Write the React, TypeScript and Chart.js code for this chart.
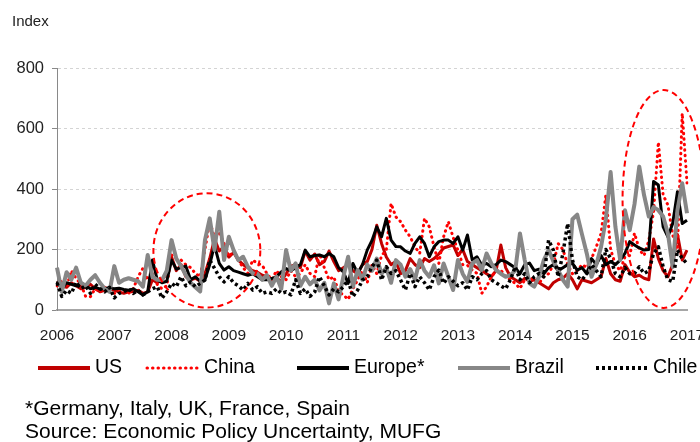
import React, { useEffect, useRef } from "react";
import { Chart, registerables } from "chart.js";

Chart.register(...registerables);

const YEARS = ["2006", "2007", "2008", "2009", "2010", "2011", "2012", "2013", "2014", "2015", "2016", "2017"];
const Y_TICKS = [0, 200, 400, 600, 800];

// Monthly values, Jan 2006 .. Jan 2017
const US = [
  95, 80, 75, 90, 80, 70, 75, 85, 70, 60, 65, 70,
  65, 60, 55, 60, 60, 65, 55, 60, 100, 90, 100, 120,
  175, 130, 150, 110, 100, 105, 95, 120, 170, 235, 195, 210,
  175, 190, 165, 150, 140, 130, 125, 115, 110, 100, 105, 95,
  120, 145, 150, 140, 195, 165, 185, 150, 160, 195, 160, 130,
  140, 150, 130, 120, 150, 160, 200, 280, 220, 175, 150, 160,
  120, 130, 170, 150, 140, 170, 160, 170, 185, 205, 210, 215,
  180, 200, 160, 150, 140, 130, 120, 110, 130, 215, 140, 110,
  100, 90, 105, 95, 100, 90, 80, 70, 90, 100, 105, 120,
  100, 70, 100, 95, 90, 100, 110, 170, 120, 100, 95, 150,
  125, 110, 115, 105, 100, 235, 170, 130, 110, 150, 250, 165,
  198,
];
const CHINA = [
  80, 95, 75, 130, 105, 85, 45, 44, 71, 60, 75, 65,
  55, 60, 65, 55, 71, 110, 138, 99, 120, 85, 70, 80,
  182, 170, 165, 150, 140, 121, 110, 200, 292, 240, 254, 220,
  176, 198, 165, 140, 121, 165, 154, 148, 120, 100, 130, 110,
  100, 130, 110, 120, 150, 121, 110, 187, 140, 100, 110, 60,
  50, 35, 70, 100, 130, 90, 150, 120, 180, 198, 352, 308,
  292, 264, 242, 209, 187, 303, 275, 209, 154, 242, 292, 240,
  198, 150, 148, 132, 121, 55, 77, 110, 130, 132, 110, 100,
  88, 71, 100, 110, 95, 88, 110, 120, 150, 220, 200, 150,
  120, 130, 150, 140, 170, 209, 253, 380, 200, 150, 130, 176,
  180, 254, 200, 180, 230, 325, 555, 380, 347, 248, 200, 650,
  420,
];
const EUROPE = [
  95, 70, 90, 85, 80, 90, 80, 70, 75, 70, 70, 75,
  70, 72, 68, 65, 70, 60, 50, 60, 165, 100, 90, 95,
  165, 135, 140, 145, 100, 110, 95, 100, 150, 214, 154, 132,
  143, 130, 125, 120, 115, 120, 110, 100, 100, 104, 110, 126,
  137, 130, 140, 150, 198, 176, 180, 182, 176, 187, 176, 140,
  126, 88, 154, 121, 150, 198, 230, 275, 242, 303, 231, 210,
  209, 195, 187, 220, 242, 220, 176, 209, 226, 231, 231, 220,
  242, 198, 248, 165, 176, 148, 154, 143, 150, 165, 160, 150,
  140, 120, 150, 155, 130, 135, 120, 140, 150, 130, 140, 150,
  154, 132, 140, 120, 170, 150, 180, 150, 160, 150, 165, 187,
  226, 215, 205, 198, 200, 425, 413, 275, 242, 286, 391, 286,
  297,
];
const BRAZIL = [
  140, 60, 125, 100, 140, 90, 80, 100, 115, 90, 70, 60,
  145, 90, 100, 105, 100, 95, 77, 182, 110, 100, 99, 130,
  231, 170, 145, 115, 90, 75, 61, 231, 303, 198, 325, 165,
  242, 198, 165, 176, 143, 121, 120, 100, 115, 80, 110, 70,
  198, 130, 154, 80, 110, 85, 100, 65, 90, 22, 88, 35,
  110, 176, 77, 132, 100, 150, 130, 170, 120, 140, 90, 165,
  150, 110, 135, 100, 165, 130, 110, 148, 88, 154, 110, 66,
  165, 120, 93, 154, 165, 132, 187, 154, 132, 120, 110, 115,
  130, 253, 165, 88, 77, 110, 165, 198, 160, 132, 100, 77,
  300, 315, 250, 187, 110, 150, 209, 300, 456, 275, 165, 330,
  264, 350, 474, 380, 309, 340, 330, 309, 253, 142, 330, 419,
  320,
];
const CHILE = [
  90, 45, 65, 55, 90, 70, 80, 55, 85, 70, 60, 75,
  40, 55, 60, 70, 55, 65, 50, 60, 70, 77, 39, 60,
  88, 77, 110, 80, 93, 77, 88, 99, 165, 138, 110, 93,
  110, 90, 80, 66, 88, 66, 77, 55, 60, 55, 70, 55,
  60, 50, 100, 55, 70, 45, 60, 110, 80, 50, 70, 60,
  77, 99, 44, 66, 99, 110, 143, 165, 99, 143, 121, 130,
  99, 66, 121, 77, 110, 90, 66, 110, 132, 88, 110, 95,
  80, 90, 66, 110, 100, 120, 130, 100, 90, 80, 70, 100,
  143, 100, 120, 90, 110, 121, 110, 231, 198, 110, 187, 286,
  165, 110, 100, 120, 150, 130, 110, 200, 170, 120, 110, 140,
  120, 121, 143, 121, 130, 187, 209, 143, 100, 94, 198, 170,
  154,
];

// Highlight ellipses in data units: centre month index, centre value, half-width (months), half-height (value)
const HIGHLIGHT_MONTH = [31.4, 127.1];
const HIGHLIGHT_VALUE = [197, 367];
const HIGHLIGHT_HALF_MONTHS = [11.2, 8.6];
const HIGHLIGHT_HALF_VALUE = [189, 360];

const FONT = "'Liberation Sans', Arial, sans-serif";

const MONTH_LABELS: string[] = [];
for (let y = 0; y < YEARS.length - 1; y++) {
  for (let m = 1; m <= 12; m++) MONTH_LABELS.push(`${YEARS[y]}-${String(m).padStart(2, "0")}`);
}
MONTH_LABELS.push(`${YEARS[YEARS.length - 1]}-01`);

const LEGEND_X = [38, 147, 297, 458, 596];
const LEGEND_Y = 368;

const highlightPlugin = {
  id: "highlights",
  afterDatasetsDraw(chart: any) {
    const { ctx, scales } = chart;
    const xs = scales.x;
    const ys = scales.y;
    ctx.save();
    ctx.strokeStyle = "#FF0000";
    ctx.lineWidth = 2;
    ctx.setLineDash([6, 4]);
    for (let i = 0; i < HIGHLIGHT_MONTH.length; i++) {
      const cx = xs.getPixelForValue(HIGHLIGHT_MONTH[i]);
      const cy = ys.getPixelForValue(HIGHLIGHT_VALUE[i]);
      const rx = xs.getPixelForValue(HIGHLIGHT_MONTH[i] + HIGHLIGHT_HALF_MONTHS[i]) - cx;
      const ry = cy - ys.getPixelForValue(HIGHLIGHT_VALUE[i] + HIGHLIGHT_HALF_VALUE[i]);
      ctx.beginPath();
      ctx.ellipse(cx, cy, rx, ry, 0, 0, Math.PI * 2);
      ctx.stroke();
    }
    ctx.restore();
  },
};

const legendPlugin = {
  id: "customLegend",
  afterDraw(chart: any) {
    const { ctx } = chart;
    const sets = chart.data.datasets;
    ctx.save();
    ctx.font = `19.5px ${FONT}`;
    ctx.textBaseline = "middle";
    ctx.fillStyle = "#000";
    sets.forEach((ds: any, i: number) => {
      const x = LEGEND_X[i];
      ctx.save();
      ctx.strokeStyle = ds.borderColor;
      ctx.lineWidth = ds.legendWidth;
      ctx.lineCap = ds.borderCapStyle || "butt";
      ctx.setLineDash(ds.borderDash || []);
      ctx.beginPath();
      ctx.moveTo(x, LEGEND_Y);
      ctx.lineTo(x + 52, LEGEND_Y);
      ctx.stroke();
      ctx.restore();
      ctx.fillText(ds.label, x + 57, LEGEND_Y);
    });
    ctx.restore();
  },
};

export default function App() {
  const ref = useRef<HTMLCanvasElement | null>(null);
  useEffect(() => {
    if (!ref.current) return;
    const chart = new Chart(ref.current, {
      type: "line",
      data: {
        labels: MONTH_LABELS,
        datasets: [
          { label: "US", data: US, borderColor: "#C00000", borderWidth: 3, legendWidth: 4, order: 5 } as any,
          { label: "China", data: CHINA, borderColor: "#FF0000", borderWidth: 3, borderDash: [0.5, 5], borderCapStyle: "round", legendWidth: 3, order: 4 } as any,
          { label: "Europe*", data: EUROPE, borderColor: "#000000", borderWidth: 3, legendWidth: 4, order: 3 } as any,
          { label: "Brazil", data: BRAZIL, borderColor: "#878787", borderWidth: 4, legendWidth: 4, order: 2 } as any,
          { label: "Chile", data: CHILE, borderColor: "#000000", borderWidth: 3.5, borderDash: [3, 3], legendWidth: 4, order: 1 } as any,
        ],
      },
      options: {
        responsive: false,
        animation: false,
        layout: { padding: { top: 68, right: 13, left: 0, bottom: 0 } },
        elements: {
          point: { radius: 0 },
          line: { tension: 0, borderJoinStyle: "round", fill: false },
        },
        plugins: { legend: { display: false }, tooltip: { enabled: false }, title: { display: false } },
        scales: {
          x: {
            type: "category",
            grid: { display: false },
            border: { display: true, color: "#A6A6A6", width: 2 },
            ticks: {
              autoSkip: false,
              maxRotation: 0,
              minRotation: 0,
              padding: 8,
              color: "#222",
              font: { family: FONT, size: 15.5 },
              callback: (_v: any, i: number) => (i % 12 === 0 ? YEARS[i / 12] : ""),
            },
            afterFit: (s: any) => {
              s.height = 132;
              s.paddingLeft = 0;
              s.paddingRight = 0;
            },
          },
          y: {
            min: Y_TICKS[0],
            max: Y_TICKS[Y_TICKS.length - 1],
            afterBuildTicks: (s: any) => {
              s.ticks = Y_TICKS.map((v) => ({ value: v }));
            },
            grid: {
              color: (c: any) => (c.tick && c.tick.value === 0 ? "rgba(0,0,0,0)" : "#D4D4D4"),
              lineWidth: 1,
              tickLength: 5,
              tickColor: "#898989",
              tickWidth: 1,
              tickBorderDash: [],
            },
            border: { display: true, color: "#898989", width: 1, dash: [3, 3] },
            ticks: {
              padding: 8,
              color: "#222",
              font: { family: FONT, size: 16.5 },
            },
            afterFit: (s: any) => {
              s.width = 57;
              s.paddingTop = 0;
              s.paddingBottom = 0;
            },
          },
        },
      },
      plugins: [highlightPlugin, legendPlugin],
    } as any);
    return () => chart.destroy();
  }, []);

  return (
    <div style={{ position: "fixed", left: 0, top: 0, width: 700, height: 442, background: "#fff", overflow: "hidden" }}>
      <canvas ref={ref} width={700} height={442} style={{ position: "absolute", left: 0, top: 0 }} />
      <div style={{ position: "absolute", left: 12, top: 12, fontFamily: FONT, fontSize: 15, lineHeight: "18px", color: "#222" }}>
        Index
      </div>
      <div style={{ position: "absolute", left: 25, top: 396, fontFamily: FONT, fontSize: 21, lineHeight: "23px", color: "#000", whiteSpace: "nowrap" }}>
        <div>*Germany, Italy, UK, France, Spain</div>
        <div>Source: Economic Policy Uncertainty, MUFG</div>
      </div>
    </div>
  );
}
